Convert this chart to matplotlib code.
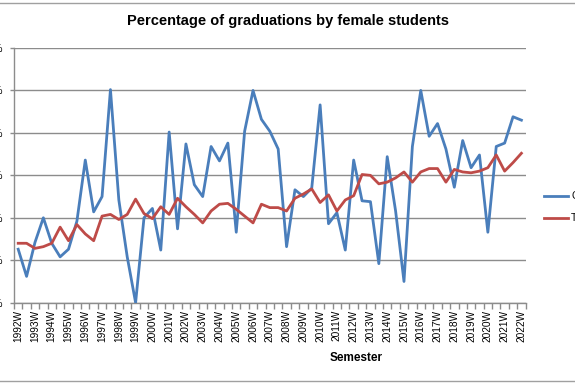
import matplotlib
matplotlib.use("Agg")
import matplotlib.pyplot as plt
from matplotlib.lines import Line2D

# Semesters: 1992W, 1992S, 1993W, ... 2022W (61 points)
years = list(range(1992, 2023))
semesters = []
for y in years:
    semesters.append(f"{y}W")
    if y != 2022:
        semesters.append(f"{y}S")
tick_labels = [f"{y}W" for y in years]

# values in percent
graduations = [26.3, 23.1, 27.1, 30.0, 27.0, 25.4, 26.3, 29.6, 36.8, 30.7,
               32.5, 45.1, 32.1, 25.4, 20.0, 30.0, 31.1, 26.2, 40.1, 28.7,
               38.7, 33.9, 32.5, 38.4, 36.7, 38.8, 28.3, 40.2, 45.0, 41.6,
               40.2, 38.1, 26.6, 33.3, 32.5, 33.5, 43.3, 29.3, 30.6, 26.2,
               36.8, 32.0, 31.9, 24.6, 37.2, 30.8, 22.5, 38.4, 45.0, 39.6,
               41.1, 38.1, 33.6, 39.1, 35.9, 37.4, 28.3, 38.4, 38.8, 41.9,
               41.5]
trend = [27.0, 27.0, 26.4, 26.6, 27.0, 28.9, 27.3, 29.2, 28.1, 27.3,
         30.2, 30.4, 29.8, 30.4, 32.2, 30.5, 29.9, 31.3, 30.4, 32.3,
         31.3, 30.4, 29.4, 30.8, 31.6, 31.7, 31.0, 30.2, 29.4, 31.6,
         31.2, 31.2, 30.8, 32.3, 32.8, 33.4, 31.8, 32.7, 30.8, 32.1,
         32.6, 35.1, 35.0, 34.0, 34.2, 34.7, 35.4, 34.2, 35.4, 35.8,
         35.8, 34.2, 35.7, 35.4, 35.3, 35.5, 35.9, 37.4, 35.5, 36.5,
         37.6]

fig = plt.figure(figsize=(5.75, 3.84), dpi=100)
W, H = 575, 384
ax = fig.add_axes([14 / W, 1 - 302.7 / H, (525.6 - 14) / W, (302.7 - 48) / H])

x = list(range(len(semesters)))
ax.plot(x, graduations, color="#4A7EBB", lw=2.0, label="Graduations", solid_joinstyle="round", zorder=3)
ax.plot(x, trend, color="#BE4B48", lw=2.0, label="Trend", solid_joinstyle="round", zorder=3)

ax.set_xlim(-0.5, len(semesters) - 0.5)
ax.set_ylim(20, 50)
ax.set_yticks([20, 25, 30, 35, 40, 45, 50])
ax.set_yticklabels([f"{v}%" for v in [20, 25, 30, 35, 40, 45, 50]], fontsize=7, family="Liberation Sans")
ax.yaxis.grid(True, color="#8c8c8c", lw=1.0)
ax.set_axisbelow(True)

ax.set_xticks(x[::2])
ax.set_xticklabels(tick_labels, rotation=90, fontsize=7.3, family="Liberation Sans")
ax.set_xticks([i - 0.5 for i in range(len(semesters) + 1)], minor=True)
ax.tick_params(axis="x", which="major", length=0, pad=5)
ax.tick_params(axis="x", which="minor", length=4, color="#8c8c8c", width=1)
ax.tick_params(axis="y", length=3, color="#8c8c8c", pad=5, width=1)

for s in ["top", "right"]:
    ax.spines[s].set_visible(False)
for s in ["left", "bottom"]:
    ax.spines[s].set_color("#8c8c8c")
    ax.spines[s].set_linewidth(1.0)

ax.set_xlabel("Semester", fontsize=8.5, fontweight="bold", family="Liberation Sans")
ax.xaxis.set_label_coords((356 - 14) / (525.6 - 14), -(352 - 302.7) / (302.7 - 48))

fig.text(288 / W, 1 - 21 / H, "Percentage of graduations by female students",
         ha="center", va="center", fontsize=10.5, fontweight="bold", family="Liberation Sans")

# legend (partially clipped at right edge, as in reference)
fig.add_artist(Line2D([544 / W, 568 / W], [1 - 196 / H, 1 - 196 / H], color="#4A7EBB", lw=2.0))
fig.add_artist(Line2D([544 / W, 568 / W], [1 - 218 / H, 1 - 218 / H], color="#BE4B48", lw=2.0))
fig.text(571 / W, 1 - 196 / H, "Graduations", ha="left", va="center", fontsize=7.5, family="Liberation Sans")
fig.text(571 / W, 1 - 218 / H, "Trend", ha="left", va="center", fontsize=7.5, family="Liberation Sans")

# chart area border lines
fig.add_artist(Line2D([0, 1], [1 - 3 / H, 1 - 3 / H], color="#a0a0a0", lw=1.0))
fig.add_artist(Line2D([0, 1], [1 - 381 / H, 1 - 381 / H], color="#a0a0a0", lw=1.0))

fig.savefig("out.png", dpi=100)
